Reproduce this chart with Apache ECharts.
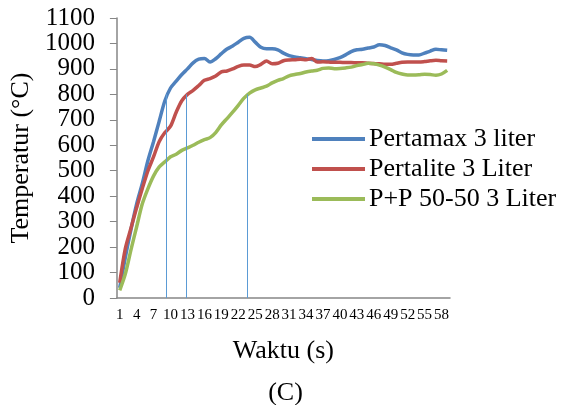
<!DOCTYPE html>
<html>
<head>
<meta charset="utf-8">
<script src="https://cdn.jsdelivr.net/npm/echarts@6/dist/echarts.min.js"></script>
<style>
  html, body { margin: 0; padding: 0; background: #fff; }
  #chart { width: 571px; height: 405px; }
</style>
</head>
<body>
<div id="chart"></div>
<script>
// waktu (s)
var waktu = ['1', '2', '3', '4', '5', '6', '7', '8', '9', '10',
  '11', '12', '13', '14', '15', '16', '17', '18', '19', '20',
  '21', '22', '23', '24', '25', '26', '27', '28', '29', '30',
  '31', '32', '33', '34', '35', '36', '37', '38', '39', '40',
  '41', '42', '43', '44', '45', '46', '47', '48', '49', '50',
  '51', '52', '53', '54', '55', '56', '57', '58', '59']

var pertamax = [40, 160, 270, 370, 450, 540, 615, 695, 775, 825,
  852, 878, 900, 924, 938, 941, 927, 940, 960, 978,
  990, 1005, 1020, 1024, 1005, 985, 979, 979, 975, 962,
  952, 947, 944, 940, 937, 933, 931, 932, 937, 944,
  955, 968, 975, 977, 982, 986, 995, 992, 983, 975,
  963, 957, 955, 955, 962, 970, 977, 975, 973]

var pertalite = [60, 195, 275, 355, 430, 500, 555, 615, 650, 675,
  730, 775, 800, 816, 835, 855, 862, 872, 888, 892,
  900, 910, 915, 915, 909, 918, 931, 920, 922, 932,
  935, 936, 938, 936, 941, 927, 928, 927, 926, 926,
  925, 925, 924, 924, 922, 921, 920, 918, 918, 922,
  926, 927, 927, 927, 929, 932, 934, 932, 931]

var campuran = [30, 95, 190, 280, 370, 430, 480, 515, 535, 555,
  565, 580, 590, 600, 612, 622, 630, 650, 680, 705,
  730, 757, 785, 805, 818, 825, 832, 845, 855, 862,
  873, 878, 882, 888, 892, 895, 902, 904, 901, 902,
  904, 907, 913, 917, 922, 920, 915, 907, 897, 886,
  880, 876, 876, 877, 879, 878, 875, 880, 894]

// garis bantu: waktu saat tiap bahan bakar mencapai 800 °C
var waktu800 = [9.3, 12.8, 23.6]
var suhu800 = 800

var yTicks = [0, 1100, 100]

var chart = echarts.init(document.getElementById('chart'))
var font = 'Liberation Serif'

var garis = waktu800.map(function(t) {
  return [{ coord: [t, 0] }, { coord: [t, suhu800] }]
})

var option = {
  animation: false,
  textStyle: { fontFamily: font },
  title: {
    text: '(C)',
    left: 'center',
    top: 375,
    textStyle: { fontFamily: font, fontSize: 26, fontWeight: 'normal', color: '#000' }
  },
  legend: {
    orient: 'vertical',
    left: 307,
    top: 121,
    itemWidth: 53,
    itemHeight: 4,
    itemGap: 4,
    icon: 'rect',
    data: ['Pertamax 3 liter', 'Pertalite 3 Liter', 'P+P 50-50 3 Liter'],
    textStyle: { fontFamily: font, fontSize: 26, color: '#000', lineHeight: 26, padding: [0, 0, 0, -1] }
  },
  grid: { left: 113, right: 121, top: 18, bottom: 107 },
  xAxis: [
    {
      type: 'category',
      data: waktu,
      boundaryGap: true,
      name: 'Waktu (s)',
      nameLocation: 'middle',
      nameGap: 40,
      nameTextStyle: { fontFamily: font, fontSize: 26, color: '#000' },
      axisLine: { lineStyle: { color: '#868686', width: 1.5 } },
      axisTick: { interval: 0, length: 4, lineStyle: { color: '#868686' } },
      axisLabel: { interval: 2, fontFamily: font, fontSize: 15, color: '#000', margin: 10 }
    },
    {
      type: 'value',
      min: 0.5,
      max: 59.5,
      show: false
    }
  ],
  yAxis: {
    type: 'value',
    min: yTicks[0],
    max: yTicks[1],
    interval: yTicks[2],
    name: 'Temperatur (°C)',
    nameLocation: 'middle',
    nameGap: 70,
    nameTextStyle: { fontFamily: font, fontSize: 26, color: '#000' },
    axisLine: { show: true, lineStyle: { color: '#868686', width: 1.5 } },
    axisTick: { show: true, length: 7, lineStyle: { color: '#868686' } },
    axisLabel: {
      fontFamily: font,
      fontSize: 25,
      color: '#000',
      margin: 22,
      formatter: function(v) { return String(v) }
    },
    splitLine: { show: false }
  },
  series: [
    {
      name: 'Pertamax 3 liter',
      type: 'line',
      data: pertamax,
      smooth: 0.3,
      showSymbol: false,
      lineStyle: { color: '#4F81BD', width: 3.5 },
      itemStyle: { color: '#4F81BD' }
    },
    {
      name: 'Pertalite 3 Liter',
      type: 'line',
      data: pertalite,
      smooth: 0.3,
      showSymbol: false,
      lineStyle: { color: '#C0504D', width: 3.5 },
      itemStyle: { color: '#C0504D' }
    },
    {
      name: 'P+P 50-50 3 Liter',
      type: 'line',
      data: campuran,
      smooth: 0.3,
      showSymbol: false,
      lineStyle: { color: '#9BBB59', width: 3.5 },
      itemStyle: { color: '#9BBB59' }
    },
    {
      name: 'garis 800',
      type: 'line',
      xAxisIndex: 1,
      data: [],
      silent: true,
      markLine: {
        symbol: 'none',
        silent: true,
        label: { show: false },
        lineStyle: { color: '#5B9BD5', width: 1, type: 'solid' },
        data: garis
      }
    }
  ]
}

chart.setOption(option)
</script>
</body>
</html>
